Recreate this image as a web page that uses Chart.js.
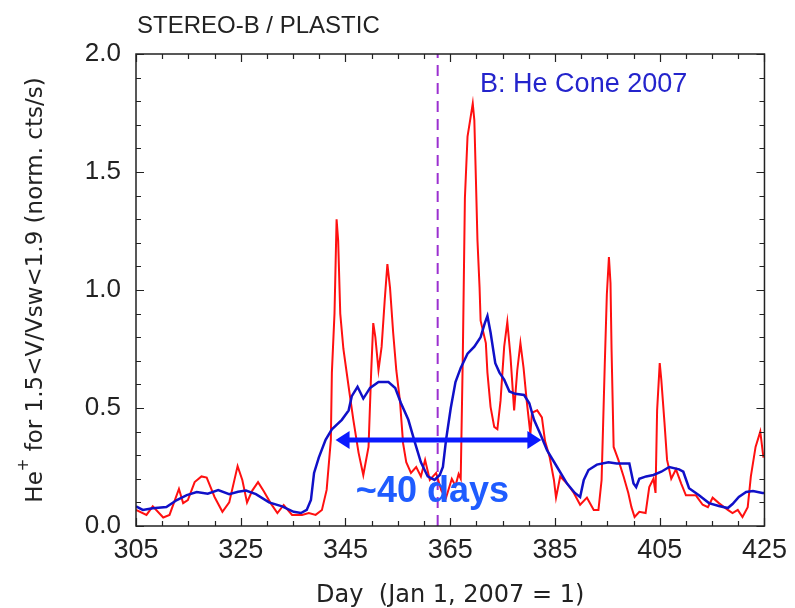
<!DOCTYPE html>
<html>
<head>
<meta charset="utf-8">
<script src="https://cdn.jsdelivr.net/npm/chart.js@4"></script>
<style>
  html, body { margin: 0; padding: 0; background: #ffffff; }
  canvas { display: block; }
</style>
</head>
<body>
<canvas id="c" width="795" height="608"></canvas>
<script>
// ---------- data ----------
const chartTitle = "STEREO-B / PLASTIC";
const xAxisTitle = "Day  (Jan 1, 2007 = 1)";
const yAxisTitleMain = "He";
const yAxisTitleSup = "+";
const yAxisTitleRest = " for 1.5<V/Vsw<1.9 (norm. cts/s)";
const coneLabel = "B: He Cone 2007";
const spanLabel = "~40 days";

const xTickLabels = [305, 325, 345, 365, 385, 405, 425];
const yTickLabels = [0.0, 0.5, 1.0, 1.5, 2.0];

const redDays = [305, 307, 308.2, 310.2, 311.4, 313.2, 314, 314.9, 316.2, 317.5, 318.5, 320, 321.5, 322.8, 324.4, 325.3, 326.2, 327.2, 328.3, 329.4, 330.7, 332, 333.2, 334.8, 336.7, 338, 339.3, 340.5, 341.4, 342.2, 342.4, 342.9, 343.3, 343.6, 344, 344.6, 345.6, 346.5, 347.5, 348.4, 349.4, 349.9, 350.3, 350.7, 351.3, 351.9, 352.5, 353, 353.5, 354.1, 354.7, 355.4, 356, 356.6, 357.5, 358.5, 359.4, 360.2, 361.1, 362.3, 363.3, 364.2, 365.3, 366, 366.6, 367, 367.4, 367.8, 368.3, 368.8, 369.3, 369.6, 369.9, 370.2, 370.6, 370.8, 371.8, 372.1, 372.7, 373.4, 374, 374.6, 375.3, 375.9, 376.5, 377.2, 377.8, 378.4, 379, 379.6, 380.3, 380.6, 381.6, 382.5, 383.1, 384, 384.8, 385.2, 386, 387.3, 388.6, 389.8, 391.1, 392.4, 393.3, 393.9, 394.5, 394.9, 395.3, 395.6, 395.8, 396.2, 397.1, 398.1, 399, 399.6, 400.2, 401.1, 402.3, 403, 403.8, 404.2, 404.5, 405, 405.3, 405.6, 405.9, 406.4, 407.2, 408.1, 409.1, 410, 411.9, 413.2, 414.2, 415.1, 416.3, 418, 418.9, 419.9, 420.8, 421.8, 422.4, 423.3, 424.2, 424.8];
const redValues = [0.068, 0.047, 0.083, 0.036, 0.047, 0.157, 0.097, 0.11, 0.186, 0.21, 0.205, 0.123, 0.06, 0.10, 0.254, 0.195, 0.10, 0.15, 0.186, 0.147, 0.097, 0.055, 0.089, 0.047, 0.047, 0.055, 0.047, 0.068, 0.153, 0.364, 0.65, 0.90, 1.30, 1.21, 0.90, 0.75, 0.59, 0.45, 0.31, 0.216, 0.335, 0.65, 0.86, 0.80, 0.66, 0.76, 0.96, 1.11, 1.01, 0.82, 0.66, 0.53, 0.35, 0.27, 0.225, 0.25, 0.21, 0.28, 0.195, 0.225, 0.15, 0.12, 0.20, 0.17, 0.22, 0.20, 0.72, 1.39, 1.65, 1.72, 1.79, 1.72, 1.47, 1.21, 1.01, 0.87, 0.775, 0.65, 0.505, 0.42, 0.41, 0.53, 0.76, 0.865, 0.72, 0.49, 0.66, 0.775, 0.67, 0.53, 0.39, 0.48, 0.49, 0.46, 0.36, 0.29, 0.195, 0.12, 0.21, 0.18, 0.14, 0.09, 0.12, 0.068, 0.068, 0.195, 0.68, 0.98, 1.14, 1.03, 0.75, 0.335, 0.28, 0.21, 0.14, 0.08, 0.038, 0.06, 0.055, 0.165, 0.20, 0.14, 0.49, 0.69, 0.62, 0.53, 0.44, 0.28, 0.20, 0.24, 0.18, 0.13, 0.13, 0.09, 0.08, 0.12, 0.097, 0.068, 0.055, 0.068, 0.038, 0.08, 0.21, 0.335, 0.40, 0.29];

const blueDays = [305, 306.3, 308.2, 310.8, 312.8, 314.7, 316.6, 318.7, 320.7, 322.8, 324.5, 326, 327.9, 330.4, 332.9, 335.1, 336.5, 337.6, 338.4, 339, 339.9, 341.2, 342.4, 344.3, 345.6, 346.2, 347.3, 348.4, 349.7, 351.3, 353.2, 354.5, 355.6, 357, 358.3, 359.4, 360.7, 362, 363, 363.6, 364.2, 365.1, 366, 367, 368.3, 369.6, 370.8, 371.6, 372.1, 372.7, 373.6, 374.4, 375.3, 376.3, 377.4, 379.1, 380.1, 381, 382.2, 383.5, 385.4, 387.3, 388.8, 389.8, 390.5, 391.4, 393, 395.2, 396.8, 399.2, 400, 400.5, 401.1, 402.4, 403.8, 405.3, 406.8, 408.7, 409.5, 410.6, 412.5, 414.4, 416.3, 418, 418.9, 420.1, 421.5, 422.8, 424.6, 425];
const blueValues = [0.083, 0.068, 0.075, 0.08, 0.11, 0.131, 0.144, 0.137, 0.152, 0.135, 0.145, 0.15, 0.135, 0.10, 0.083, 0.06, 0.055, 0.068, 0.11, 0.225, 0.29, 0.365, 0.41, 0.45, 0.49, 0.55, 0.59, 0.54, 0.585, 0.61, 0.61, 0.585, 0.52, 0.45, 0.35, 0.27, 0.21, 0.195, 0.216, 0.25, 0.365, 0.50, 0.61, 0.67, 0.73, 0.76, 0.80, 0.86, 0.89, 0.82, 0.69, 0.65, 0.62, 0.57, 0.56, 0.555, 0.52, 0.45, 0.39, 0.32, 0.25, 0.18, 0.14, 0.123, 0.195, 0.237, 0.26, 0.27, 0.265, 0.265, 0.18, 0.165, 0.20, 0.21, 0.216, 0.23, 0.25, 0.24, 0.23, 0.16, 0.13, 0.097, 0.085, 0.076, 0.093, 0.123, 0.144, 0.148, 0.14, 0.14];

const coneDay = 362.6;
const arrowDays = [343.1, 382.4];
const arrowLevel = 0.364;
const coneLabelPos = [370.7, 1.84];
const spanLabelPos = [361.6, 0.10];

// ---------- build ----------
const pts = (xs, ys) => xs.map((x, i) => ({ x: x, y: ys[i] }));

const FONT = "'Liberation Sans', Arial, Helvetica, sans-serif";
const WIDEFONT = "'DejaVu Sans', Verdana, sans-serif";

const decorPlugin = {
  id: 'decor',
  afterDatasetsDraw(chart) {
    const ctx = chart.ctx;
    const xs = chart.scales.x, ys = chart.scales.y;
    const a = chart.chartArea;
    ctx.save();
    // frame
    ctx.strokeStyle = '#222';
    ctx.lineWidth = 1.5;
    ctx.strokeRect(a.left, a.top, a.right - a.left, a.bottom - a.top);
    // inside ticks
    ctx.lineWidth = 1.2;
    ctx.beginPath();
    for (let d = xs.min; d <= xs.max + 1e-6; d += 5) {
      const px = Math.round(xs.getPixelForValue(d)) + 0.5;
      const len = ((d - xs.min) % 20 === 0) ? 8 : 5;
      ctx.moveTo(px, a.bottom); ctx.lineTo(px, a.bottom - len);
      ctx.moveTo(px, a.top); ctx.lineTo(px, a.top + len);
    }
    for (let k = 0; k <= 20; k++) {
      const v = k / 10;
      const py = Math.round(ys.getPixelForValue(v)) + 0.5;
      const len = (k % 5 === 0) ? 8 : 5;
      ctx.moveTo(a.left, py); ctx.lineTo(a.left + len, py);
      ctx.moveTo(a.right, py); ctx.lineTo(a.right - len, py);
    }
    ctx.stroke();

    // arrow heads
    const ay = ys.getPixelForValue(arrowLevel);
    const x0 = xs.getPixelForValue(arrowDays[0]);
    const x1 = xs.getPixelForValue(arrowDays[1]);
    ctx.fillStyle = '#0a1aff';
    ctx.beginPath();
    ctx.moveTo(x0, ay); ctx.lineTo(x0 + 14, ay - 9); ctx.lineTo(x0 + 14, ay + 9); ctx.closePath();
    ctx.fill();
    ctx.beginPath();
    ctx.moveTo(x1, ay); ctx.lineTo(x1 - 14, ay - 9); ctx.lineTo(x1 - 14, ay + 9); ctx.closePath();
    ctx.fill();

    // annotation texts
    ctx.textBaseline = 'alphabetic';
    ctx.fillStyle = '#2424cc';
    ctx.font = '27px ' + FONT;
    ctx.textAlign = 'left';
    ctx.fillText(coneLabel, xs.getPixelForValue(coneLabelPos[0]), ys.getPixelForValue(coneLabelPos[1]));

    ctx.fillStyle = '#1f5cff';
    ctx.font = 'bold 36px ' + FONT;
    ctx.textAlign = 'center';
    ctx.fillText(spanLabel, xs.getPixelForValue(spanLabelPos[0]), ys.getPixelForValue(spanLabelPos[1]));

    // chart title
    ctx.fillStyle = '#222';
    ctx.font = '24px ' + FONT;
    ctx.textAlign = 'left';
    ctx.fillText(chartTitle, a.left + 1, 33);

    // x axis title
    ctx.font = '24px ' + WIDEFONT;
    ctx.textAlign = 'center';
    ctx.fillText(xAxisTitle, (a.left + a.right) / 2, 602);

    // y axis title (rotated, with superscript)
    ctx.save();
    ctx.translate(42, (a.top + a.bottom) / 2);
    ctx.rotate(-Math.PI / 2);
    ctx.font = '23px ' + WIDEFONT;
    const w1 = ctx.measureText(yAxisTitleMain).width;
    const w3 = ctx.measureText(yAxisTitleRest).width;
    ctx.font = '15px ' + WIDEFONT;
    const w2 = ctx.measureText(yAxisTitleSup).width;
    let sx = -(w1 + w2 + w3) / 2;
    ctx.textAlign = 'left';
    ctx.font = '23px ' + WIDEFONT;
    ctx.fillText(yAxisTitleMain, sx, 0);
    ctx.font = '15px ' + WIDEFONT;
    ctx.fillText(yAxisTitleSup, sx + w1, -14);
    ctx.font = '23px ' + WIDEFONT;
    ctx.fillText(yAxisTitleRest, sx + w1 + w2, 0);
    ctx.restore();

    ctx.restore();
  }
};

new Chart(document.getElementById('c'), {
  type: 'line',
  data: {
    datasets: [
      {
        label: 'arrow',
        data: pts(arrowDays.map((d, i) => i === 0 ? d + 10 / 5.27 : d - 10 / 5.27), [arrowLevel, arrowLevel]),
        borderColor: '#0a1aff', borderWidth: 5, pointRadius: 0, order: 0
      },
      {
        label: 'blue',
        data: pts(blueDays, blueValues),
        borderColor: '#1010c8', borderWidth: 2.5, pointRadius: 0, tension: 0, order: 1
      },
      {
        label: 'red',
        data: pts(redDays, redValues),
        borderColor: '#ff1010', borderWidth: 2, pointRadius: 0, tension: 0, order: 2
      },
      {
        label: 'cone',
        data: pts([coneDay, coneDay], [0, 2]),
        borderColor: '#9b30d0', borderWidth: 2, borderDash: [11, 7], pointRadius: 0, order: 3
      }
    ]
  },
  options: {
    responsive: false,
    animation: false,
    devicePixelRatio: 1,
    layout: { padding: { left: 0, right: 27, top: 54, bottom: 0 } },
    plugins: { legend: { display: false }, tooltip: { enabled: false }, title: { display: false } },
    scales: {
      x: {
        type: 'linear', min: 305, max: 425,
        grid: { display: false, drawTicks: false },
        border: { display: false },
        ticks: {
          stepSize: 20, autoSkip: false, maxRotation: 0, padding: 8,
          color: '#222', font: { size: 27, family: FONT },
          callback: (v) => xTickLabels.includes(v) ? String(v) : ''
        },
        afterFit: (s) => { s.height = 82; }
      },
      y: {
        type: 'linear', min: 0, max: 2,
        grid: { display: false, drawTicks: false },
        border: { display: false },
        ticks: {
          stepSize: 0.5, padding: 15,
          color: '#222', font: { size: 26, family: FONT },
          callback: (v) => yTickLabels.includes(v) ? v.toFixed(1) : ''
        },
        afterFit: (s) => { s.width = 136; }
      }
    }
  },
  plugins: [decorPlugin]
});
</script>
</body>
</html>
